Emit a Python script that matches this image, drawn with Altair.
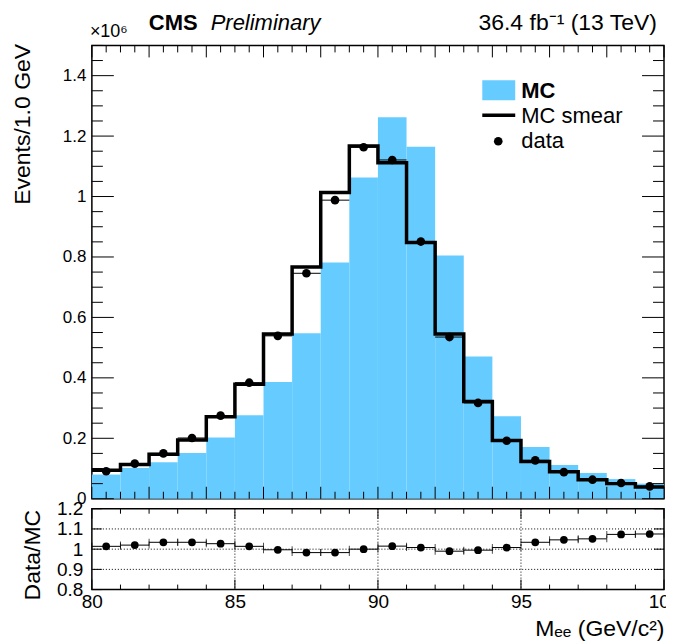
import altair as alt
import pandas as pd

FONT = "Liberation Sans"

# ---- data (events in units of 10^6) ----
bin_lo = [80, 81, 82, 83, 84, 85, 86, 87, 88, 89, 90, 91, 92, 93, 94, 95, 96, 97, 98, 99]
mc = [0.080, 0.102, 0.121, 0.151, 0.203, 0.276, 0.386, 0.548, 0.782, 1.063,
      1.262, 1.165, 0.805, 0.471, 0.273, 0.171, 0.112, 0.085, 0.065, 0.050]
mc_smear = [0.094, 0.113, 0.147, 0.194, 0.271, 0.379, 0.545, 0.767, 1.013, 1.167,
            1.112, 0.848, 0.545, 0.322, 0.193, 0.123, 0.089, 0.063, 0.050, 0.039]
data = [0.091, 0.116, 0.150, 0.201, 0.275, 0.384, 0.539, 0.746, 0.988, 1.163,
        1.121, 0.851, 0.535, 0.317, 0.192, 0.127, 0.088, 0.063, 0.052, 0.041]
ratio = [1.014, 1.020, 1.034, 1.034, 1.027, 1.014, 0.997, 0.983, 0.983, 1.000,
         1.015, 1.008, 0.990, 0.995, 1.008, 1.034, 1.046, 1.051, 1.073, 1.075]

# tick / label values
y_top_labels = [0, 0.2, 0.4, 0.6, 0.8, 1.0, 1.2, 1.4]
y_top_minor = [round(i * 0.05, 2) for i in range(31) if i % 4 != 0]
x_top_major = [80, 82, 84, 86, 88, 90, 92, 94, 96, 98, 100]
x_top_minor = [80 + i * 0.5 for i in range(41) if i % 4 != 0]
x_ratio_labels = [80, 85, 90, 95, 100]
x_ratio_minor = [v for v in range(80, 101) if v % 5 != 0]
y_ratio_labels = [0.8, 0.9, 1.0, 1.1, 1.2]
ratio_grid_x = [85, 90, 95]
ratio_grid_y = [0.9, 1.0, 1.1]

df = pd.DataFrame({
    "lo": bin_lo,
    "hi": [b + 1 for b in bin_lo],
    "center": [b + 0.5 for b in bin_lo],
    "mc": mc, "smear": mc_smear, "data": data, "ratio": ratio,
})
step_df = pd.DataFrame({"edge": bin_lo + [bin_lo[-1] + 1],
                        "val": mc_smear + [mc_smear[-1]]})

W = 573
H_TOP = 454
H_R = 81

xs = alt.Scale(domain=[80, 100], nice=False, zero=False)
ys = alt.Scale(domain=[0, 1.5], nice=False, zero=False)
rs = alt.Scale(domain=[0.8, 1.2], nice=False, zero=False)

# shared axis definitions (same object in every layer so they merge cleanly)
y_axis_top = alt.Axis(values=y_top_labels, format=".1~f", ticks=False, domain=False, grid=False,
                      labelFontSize=17, labelPadding=6, labelOverlap=False,
                      title="Events/1.0 GeV", titleFontSize=23, titleAngle=270,
                      titleAlign="right", titleBaseline="middle", titleX=-69, titleY=-2)
x_axis_r = alt.Axis(values=x_ratio_labels, format="d", ticks=False, domain=False, grid=False,
                    labelFontSize=19, labelPadding=3, labelFlush=False, labelOverlap=False,
                    title="Mₑₑ (GeV/c²)", titleFontSize=23, titleAnchor="end", titleAlign="right",
                    titleBaseline="alphabetic", titleX=W, titleY=46)
y_axis_r = alt.Axis(values=y_ratio_labels, format=".1~f", ticks=False, domain=False, grid=False,
                    labelFontSize=19, labelPadding=9, labelOverlap=False,
                    title="Data/MC", titleFontSize=23, titleAngle=270, titleAlign="center",
                    titleBaseline="middle", titleX=-59, titleY=46)

one = pd.DataFrame({"a": [0]})


def xticks(values, scale, axis, height, length):
    d = pd.DataFrame({"v": values})
    base = alt.Chart(d).mark_rule(color="black", strokeWidth=1)
    bot = base.encode(x=alt.X("v:Q", scale=scale, axis=axis), y=alt.value(height), y2=alt.value(height - length))
    top = base.encode(x=alt.X("v:Q", scale=scale, axis=axis), y=alt.value(0), y2=alt.value(length))
    return [bot, top]


def yticks(values, scale, axis, length):
    d = pd.DataFrame({"v": values})
    base = alt.Chart(d).mark_rule(color="black", strokeWidth=1)
    left = base.encode(y=alt.Y("v:Q", scale=scale, axis=axis), x=alt.value(0), x2=alt.value(length))
    right = base.encode(y=alt.Y("v:Q", scale=scale, axis=axis), x=alt.value(W), x2=alt.value(W - length))
    return [left, right]


# ---------------- top panel ----------------
bars = alt.Chart(df).mark_rect(color="#66ccff").encode(
    x=alt.X("lo:Q", scale=xs, axis=None), x2="hi",
    y=alt.Y("mc:Q", scale=ys, axis=y_axis_top), y2=alt.datum(0))

step = alt.Chart(step_df).mark_line(interpolate="step-after", color="black", strokeWidth=3.5).encode(
    x=alt.X("edge:Q", scale=xs, axis=None), y=alt.Y("val:Q", scale=ys, axis=y_axis_top))

err_top = alt.Chart(df).mark_rule(color="black", strokeWidth=1).encode(
    x=alt.X("lo:Q", scale=xs, axis=None), x2="hi", y=alt.Y("data:Q", scale=ys, axis=y_axis_top))

pts_top = alt.Chart(df).mark_circle(color="black", opacity=1, size=75).encode(
    x=alt.X("center:Q", scale=xs, axis=None), y=alt.Y("data:Q", scale=ys, axis=y_axis_top))

# legend
leg_rect = alt.Chart(one).mark_rect(color="#66ccff").encode(
    x=alt.value(391), x2=alt.value(424), y=alt.value(35), y2=alt.value(55))
leg_line = alt.Chart(one).mark_rule(color="black", strokeWidth=3.5).encode(
    x=alt.value(391), x2=alt.value(424), y=alt.value(70))
leg_pt = alt.Chart(one).mark_circle(color="black", opacity=1, size=75).encode(
    x=alt.value(407), y=alt.value(96))
leg_t1 = alt.Chart(one).mark_text(text="MC", font=FONT, fontSize=22, fontWeight="bold",
                                  align="left", baseline="middle").encode(x=alt.value(430), y=alt.value(46))
leg_t2 = alt.Chart(one).mark_text(text="MC smear", font=FONT, fontSize=22,
                                  align="left", baseline="middle").encode(x=alt.value(430), y=alt.value(71))
leg_t3 = alt.Chart(one).mark_text(text="data", font=FONT, fontSize=22,
                                  align="left", baseline="middle").encode(x=alt.value(430), y=alt.value(96))

# header
h_exp = alt.Chart(one).mark_text(text="×10⁶", font=FONT, fontSize=18, align="left",
                                 baseline="alphabetic").encode(x=alt.value(-2), y=alt.value(-8))
h_cms = alt.Chart(one).mark_text(text="CMS", font=FONT, fontSize=22, fontWeight="bold", align="left",
                                 baseline="alphabetic").encode(x=alt.value(57), y=alt.value(-15))
h_pre = alt.Chart(one).mark_text(text="Preliminary", font=FONT, fontSize=22, fontStyle="italic",
                                 align="left", baseline="alphabetic").encode(x=alt.value(119), y=alt.value(-15))
h_lumi = alt.Chart(one).mark_text(text="36.4 fb⁻¹ (13 TeV)", font=FONT, fontSize=23, align="right",
                                  baseline="alphabetic").encode(x=alt.value(566), y=alt.value(-15))

top_layers = [bars]
top_layers += xticks(x_top_major, xs, None, H_TOP, 12) + xticks(x_top_minor, xs, None, H_TOP, 7)
top_layers += yticks(y_top_labels, ys, y_axis_top, 22) + yticks(y_top_minor, ys, y_axis_top, 11)
top_layers += [step, err_top, pts_top, leg_rect, leg_line, leg_pt, leg_t1, leg_t2, leg_t3,
               h_exp, h_cms, h_pre, h_lumi]

top = alt.layer(*top_layers).properties(width=W, height=H_TOP)

# ---------------- ratio panel ----------------
grid_x = alt.Chart(pd.DataFrame({"v": ratio_grid_x})).mark_rule(
    color="black", strokeWidth=1, strokeDash=[1, 2]).encode(x=alt.X("v:Q", scale=xs, axis=x_axis_r))
grid_y = alt.Chart(pd.DataFrame({"v": ratio_grid_y})).mark_rule(
    color="black", strokeWidth=1, strokeDash=[1, 2]).encode(y=alt.Y("v:Q", scale=rs, axis=y_axis_r))

err_r = alt.Chart(df).mark_rule(color="black", strokeWidth=1).encode(
    x=alt.X("lo:Q", scale=xs, axis=x_axis_r), x2="hi",
    y=alt.Y("ratio:Q", scale=rs, axis=y_axis_r))
cap_lo = alt.Chart(df).mark_tick(orient="vertical", size=7, thickness=1, color="black").encode(
    x=alt.X("lo:Q", scale=xs, axis=x_axis_r), y=alt.Y("ratio:Q", scale=rs, axis=y_axis_r))
cap_hi = alt.Chart(df).mark_tick(orient="vertical", size=7, thickness=1, color="black").encode(
    x=alt.X("hi:Q", scale=xs, axis=x_axis_r), y=alt.Y("ratio:Q", scale=rs, axis=y_axis_r))
pts_r = alt.Chart(df).mark_circle(color="black", opacity=1, size=60).encode(
    x=alt.X("center:Q", scale=xs, axis=x_axis_r), y=alt.Y("ratio:Q", scale=rs, axis=y_axis_r))

r_layers = [grid_x, grid_y, err_r]
r_layers += xticks(x_ratio_labels, xs, x_axis_r, H_R, 10) + xticks(x_ratio_minor, xs, x_axis_r, H_R, 5)
r_layers += yticks(y_ratio_labels, rs, y_axis_r, 10)
r_layers += [cap_lo, cap_hi, pts_r]

bottom = alt.layer(*r_layers).properties(width=W, height=H_R)

chart = alt.vconcat(top, bottom, spacing=-9).properties(
    padding={"left": 3, "top": 3, "right": -15, "bottom": 0},
    background="white",
).configure_view(stroke="black", strokeWidth=1.5).configure_axis(
    labelFont=FONT, titleFont=FONT, labelColor="black", titleColor="black",
    titleFontWeight="normal")

chart.save("out.html", embed_options={"renderer": "svg", "actions": False})
